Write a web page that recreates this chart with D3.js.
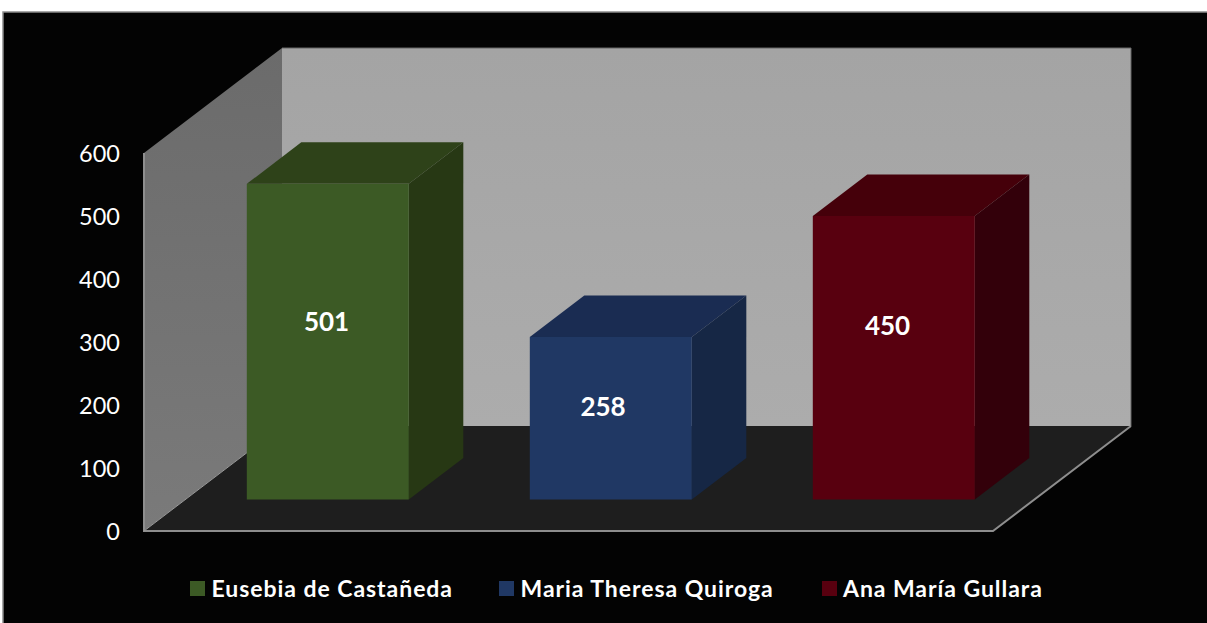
<!DOCTYPE html>
<html><head><meta charset="utf-8">
<style>html,body{margin:0;padding:0;background:#fff;overflow:hidden}svg{display:block}text{font-family:Lato,"Open Sans",sans-serif}</style>
<script src="https://cdn.jsdelivr.net/npm/d3@7/dist/d3.min.js"></script></head><body>
<svg id="c" width="1207" height="623"></svg>
<script>
const names = ["Eusebia de Castañeda", "Maria Theresa Quiroga", "Ana María Gullara"];
const values = [501, 258, 450];
const yTicks = [0, 100, 200, 300, 400, 500, 600];
const frontColors = ["#3c5a25", "#203864", "#58000f"];
const topColors = ["#2e4219", "#1a2c52", "#45000a"];
const sideColors = ["#273814", "#162745", "#33000a"];

const svg = d3.select("#c");
const defs = svg.append("defs");
function vgrad(id, a, b) {
  const g = defs.append("linearGradient").attr("id", id).attr("x1", 0).attr("y1", 0).attr("x2", 0).attr("y2", 1);
  g.append("stop").attr("offset", "0%").attr("stop-color", a);
  g.append("stop").attr("offset", "100%").attr("stop-color", b);
}
vgrad("wallL", "#6b6b6b", "#7a7a7a");
vgrad("wallB", "#a4a4a4", "#acacac");

svg.append("rect").attr("x", 3).attr("y", 12).attr("width", 1210).attr("height", 620)
  .attr("fill", "#030303").attr("stroke", "#8c8c8c").attr("stroke-width", 1.5);

// plot geometry
const left = 144, right = 993, floorY = 531, plotH = 378, dx = 138, dy = 105;
const pts = a => a.map(p => p.join(",")).join(" ");
const y = d3.scaleLinear().domain([0, 600]).range([plotH, 0]);

// walls and floor
svg.append("polygon").attr("points", pts([[left, floorY-plotH],[left+dx, floorY-plotH-dy],[left+dx, floorY-dy],[left, floorY]])).attr("fill", "url(#wallL)");
svg.append("polygon").attr("points", pts([[left+dx, floorY-plotH-dy],[right+dx, floorY-plotH-dy],[right+dx, floorY-dy],[left+dx, floorY-dy]])).attr("fill", "url(#wallB)");
svg.append("polyline").attr("points", pts([[left+dx, floorY-plotH-dy],[right+dx, floorY-plotH-dy],[right+dx, floorY-dy]])).attr("fill", "none").attr("stroke", "#666").attr("stroke-width", 1);
svg.append("polygon").attr("points", pts([[left, floorY],[right, floorY],[right+dx, floorY-dy],[left+dx, floorY-dy]])).attr("fill", "#1e1e1e");
svg.append("polyline").attr("points", pts([[left, floorY-plotH],[left, floorY],[right, floorY],[right+dx, floorY-dy]])).attr("fill", "none").attr("stroke", "#8e8e8e").attr("stroke-width", 2);
svg.append("line").attr("x1", left).attr("y1", floorY).attr("x2", left+dx).attr("y2", floorY-dy).attr("stroke", "#9a9a9a").attr("stroke-width", 1);

// y axis
const axis = d3.axisLeft(y).tickValues(yTicks).tickSize(0).tickPadding(0);
const ag = svg.append("g").attr("transform", `translate(120,${floorY-plotH+0.5})`).call(axis);
ag.select(".domain").remove();
ag.selectAll("text").attr("fill", "#fff").attr("font-size", 23.5).style("font-family", 'Lato,"Open Sans",sans-serif');

// bars
const x = d3.scaleBand().domain(names).range([186.3, 1035.3]).paddingInner(0.4276).paddingOuter(0.2138);
const base = 499.5, bdx = 54.5, bdy = 41.5;
const labelCenterX = [326.5, 603, 887.5];
const labelCenterY = [322, 407, 326];
const bars = svg.append("g").selectAll("g").data(names).join("g");
bars.each(function (n, i) {
  const g = d3.select(this), x0 = x(n), w = x.bandwidth(), t = base - (plotH - y(values[i]));
  g.append("polygon").attr("points", pts([[x0, t],[x0+bdx, t-bdy],[x0+w+bdx, t-bdy],[x0+w, t]])).attr("fill", topColors[i]);
  g.append("polygon").attr("points", pts([[x0+w, t],[x0+w+bdx, t-bdy],[x0+w+bdx, base-bdy],[x0+w, base]])).attr("fill", sideColors[i]);
  g.append("rect").attr("x", x0).attr("y", t).attr("width", w).attr("height", base-t).attr("fill", frontColors[i]);
  g.append("text").attr("x", labelCenterX[i]).attr("y", labelCenterY[i]+9).attr("text-anchor", "middle")
    .attr("fill", "#fff").attr("font-size", 26).attr("font-weight", 700).text(values[i]);
});

// legend
const swatchX = [190, 499, 822], textX = [211.5, 520.5, 843];
names.forEach((n, i) => {
  svg.append("rect").attr("x", swatchX[i]).attr("y", 581).attr("width", 15).attr("height", 15).attr("fill", frontColors[i]);
  svg.append("text").attr("x", textX[i]).attr("y", 596.5).attr("fill", "#fff").attr("font-size", 23).attr("font-weight", 700)
    .attr("letter-spacing", 0.95).text(n);
});
</script></body></html>
